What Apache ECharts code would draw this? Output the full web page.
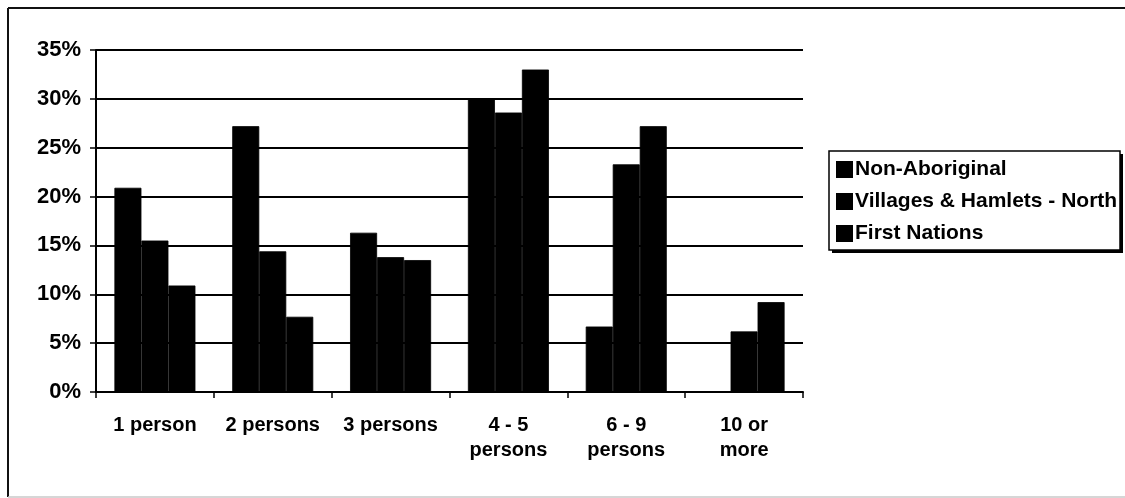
<!DOCTYPE html>
<html>
<head>
<meta charset="utf-8">
<script src="https://cdn.jsdelivr.net/npm/echarts@6/dist/echarts.min.js"></script>
<style>
  html, body { margin: 0; padding: 0; background: #fff; }
  #chart { width: 1125px; height: 498px; }
</style>
</head>
<body>
<div id="chart"></div>
<script>
// Household size distribution (share of households, %)
const categories = ['1 person', '2 persons', '3 persons', '4 - 5\npersons', '6 - 9\npersons', '10 or\nmore'];
const seriesNames = ['Non-Aboriginal', 'Villages & Hamlets - North', 'First Nations'];
const nonAboriginal = [20.9, 27.2, 16.3, 30.0, 6.7, 0];
const villagesNorth = [15.5, 14.4, 13.8, 28.6, 23.3, 6.2];
const firstNations = [10.9, 7.7, 13.5, 33.0, 27.2, 9.2];
const yTicks = { min: 0, max: 35, interval: 5 };

const seriesValues = [nonAboriginal, villagesNorth, firstNations];
const FONT = '"Liberation Sans", Arial, sans-serif';
const ink = '#000';

// legend frame geometry (box with a solid drop shadow)
const legendBox = { x: 829, y: 151, w: 291, h: 99 };

const chart = echarts.init(document.getElementById('chart'), null, { renderer: 'canvas' });

chart.setOption({
  backgroundColor: '#fff',
  animation: false,
  graphic: [
    // outer chart frame: dark top and left edges, pale bottom edge
    { type: 'line', z: 0, silent: true, shape: { x1: 8, y1: 8, x2: 1125, y2: 8 }, style: { stroke: '#111', lineWidth: 2 } },
    { type: 'line', z: 0, silent: true, shape: { x1: 8, y1: 8, x2: 8, y2: 497 }, style: { stroke: '#111', lineWidth: 2 } },
    { type: 'line', z: 0, silent: true, shape: { x1: 8, y1: 497, x2: 1125, y2: 497 }, style: { stroke: '#c8c8c8', lineWidth: 1.5 } },
    // legend shadow and frame
    { type: 'rect', z: 0, silent: true,
      shape: { x: legendBox.x + 3, y: legendBox.y + 3, width: legendBox.w, height: legendBox.h },
      style: { fill: ink } },
    { type: 'rect', z: 1, silent: true,
      shape: { x: legendBox.x, y: legendBox.y, width: legendBox.w, height: legendBox.h },
      style: { fill: '#fff', stroke: ink, lineWidth: 1.5 } }
  ],
  grid: { left: 96, top: 50, width: 707, height: 342, containLabel: false },
  legend: {
    data: seriesNames,
    orient: 'vertical',
    left: legendBox.x,
    top: legendBox.y,
    z: 10,
    icon: 'rect',
    itemWidth: 15,
    itemHeight: 15,
    itemGap: 11,
    padding: [8, 6, 10, 7],
    borderWidth: 0,
    backgroundColor: 'transparent',
    textStyle: { color: ink, fontFamily: FONT, fontWeight: 'bold', fontSize: 21, padding: [0, 0, 0, -2] }
  },
  xAxis: {
    type: 'category',
    data: categories,
    axisLine: { lineStyle: { color: ink, width: 2 } },
    axisTick: { show: true, length: 6, lineStyle: { color: ink, width: 1.5 } },
    axisLabel: {
      color: ink, fontFamily: FONT, fontWeight: 'bold', fontSize: 20,
      margin: 21, lineHeight: 25, interval: 0
    },
    splitLine: { show: false }
  },
  yAxis: {
    type: 'value',
    min: yTicks.min,
    max: yTicks.max,
    interval: yTicks.interval,
    axisLine: { show: true, lineStyle: { color: ink, width: 2 } },
    axisTick: { show: true, length: 6, lineStyle: { color: ink, width: 1.5 } },
    axisLabel: {
      formatter: '{value}%',
      color: ink, fontFamily: FONT, fontWeight: 'bold', fontSize: 22,
      margin: 15
    },
    splitLine: { show: true, lineStyle: { color: ink, width: 2 } }
  },
  series: seriesNames.map((name, i) => ({
    name: name,
    type: 'bar',
    data: seriesValues[i],
    barWidth: 27,
    barGap: '0%',
    itemStyle: { color: ink, borderColor: ink, borderWidth: 0.8 },
    emphasis: { disabled: true }
  }))
});
</script>
</body>
</html>
